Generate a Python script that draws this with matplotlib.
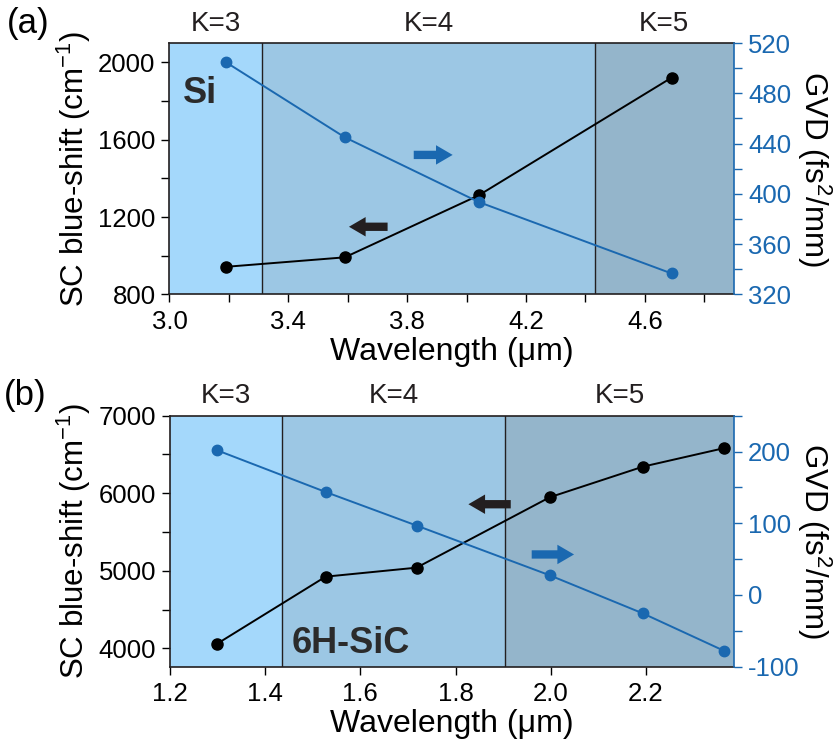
import matplotlib
matplotlib.use("Agg")
import matplotlib.pyplot as plt
import matplotlib.transforms as mtransforms
from matplotlib.ticker import MultipleLocator, FormatStrFormatter

# 字体设置
plt.rcParams['font.family'] = ['Liberation Sans', 'DejaVu Sans']
plt.rcParams['mathtext.fontset'] = 'custom'
plt.rcParams['mathtext.rm'] = 'Liberation Sans'
plt.rcParams['mathtext.it'] = 'Liberation Sans:italic'
plt.rcParams['axes.unicode_minus'] = False

# (a) Si 数据
si_wl = [3.19, 3.59, 4.04, 4.69]
si_shift = [943, 992, 1312, 1921]
si_gvd = [504.7, 445, 393.6, 336.7]
si_edges = [3.0, 3.313, 4.431, 4.9]

# (b) 6H-SiC 数据
sic_wl = [1.298, 1.527, 1.718, 1.998, 2.194, 2.364]
sic_shift = [4055, 4924, 5040, 5948, 6343, 6581]
sic_gvd = [202, 143.6, 96.8, 27.4, -25.8, -77.8]
sic_edges = [1.2, 1.435, 1.904, 2.385]

k_labels = ['K=3', 'K=4', 'K=5']
region_colors = ['#a4d8fb', '#9cc7e4', '#94b5cb']

blue = '#1a68b0'
dark = '#231f20'
tick_fs = 18.5
label_fs = 22.5


fig = plt.figure(figsize=(8.37, 7.44), dpi=100)


def draw_panel(rect, wl, shift, gvd, edges, xlim, ylim_l, ylim_r,
               xmajor, xoffset, xminor, lmajor, rmajor, rminor, arrows, name, name_pos):
    ax = fig.add_axes(rect)
    ax2 = ax.twinx()

    # 背景分区
    for i in range(3):
        ax.axvspan(edges[i], edges[i + 1], color=region_colors[i], lw=0, zorder=0)
    for e in edges[1:-1]:
        ax.axvline(e, color=dark, lw=1.0, zorder=1)

    trans = mtransforms.blended_transform_factory(ax.transData, ax.transAxes)
    for i in range(3):
        ax.text((edges[i] + edges[i + 1]) / 2, 1.025, k_labels[i], transform=trans,
                ha='center', va='bottom', fontsize=20, color=dark)

    ax.plot(wl, shift, '-o', color='black', lw=1.4, ms=8, zorder=3)
    ax2.plot(wl, gvd, '-o', color=blue, lw=1.4, ms=7.5, zorder=3)

    ax.set_xlim(*xlim)
    ax.set_ylim(*ylim_l)
    ax2.set_ylim(*ylim_r)

    ax.xaxis.set_major_locator(MultipleLocator(xmajor, offset=xoffset))
    if xminor:
        ax.xaxis.set_minor_locator(MultipleLocator(xminor))
    ax.yaxis.set_major_locator(MultipleLocator(lmajor))
    ax.yaxis.set_minor_locator(MultipleLocator(lmajor / 2))
    ax2.yaxis.set_major_locator(MultipleLocator(rmajor))
    ax2.yaxis.set_minor_locator(MultipleLocator(rminor))
    ax.xaxis.set_major_formatter(FormatStrFormatter('%.1f'))

    for a in (ax, ax2):
        a.tick_params(which='both', direction='out', length=6, width=1.0, labelsize=tick_fs)
    ax.tick_params(axis='y', which='both', colors='black', pad=4)
    ax.tick_params(axis='x', which='both', pad=5)
    ax2.tick_params(axis='y', which='both', colors=blue, labelcolor=blue, pad=4)

    for s in ['top', 'bottom', 'left']:
        ax2.spines[s].set_visible(False)
        ax.spines[s].set_color(dark)
        ax.spines[s].set_linewidth(1.2)
    ax.spines['right'].set_visible(False)
    ax2.spines['right'].set_color(blue)
    ax2.spines['right'].set_linewidth(1.2)

    ax.set_xlabel('Wavelength (μm)', fontsize=23, labelpad=2)
    ax.set_ylabel('SC blue-shift (cm$^{-1}$)', fontsize=label_fs)
    ax.yaxis.set_label_coords(-0.136, 0.5)
    ax2.set_ylabel('GVD (fs$^{2}$/mm)', fontsize=label_fs, rotation=270, va='bottom')
    ax2.yaxis.set_label_coords(1.108, 0.5)

    # 指示坐标轴的箭头
    (bx0, bx1, by), (rx0, rx1, ry) = arrows
    style = 'simple,head_length=0.6,head_width=0.7,tail_width=0.3'
    ax.annotate('', xy=(bx1, by), xytext=(bx0, by),
                arrowprops=dict(arrowstyle=style, color=dark, mutation_scale=20,
                                shrinkA=0, shrinkB=0, lw=0))
    ax2.annotate('', xy=(rx1, ry), xytext=(rx0, ry),
                 arrowprops=dict(arrowstyle=style, color=blue, mutation_scale=20,
                                 shrinkA=0, shrinkB=0, lw=0))

    ax.text(name_pos[0], name_pos[1], name, fontsize=26, fontweight='bold',
            color='#2b2b2b', ha='left', va='center', zorder=4)
    return ax


ax_a = draw_panel([0.2025, 0.6042, 0.6745, 0.338], si_wl, si_shift, si_gvd, si_edges,
                  (3.0, 4.9), (800, 2100), (320, 520), 0.4, 0.2, 0.2, 400, 40, 20,
                  ((3.734, 3.604, 1150), (3.822, 3.953, 431)), 'Si', (3.045, 1840))

ax_b = draw_panel([0.2031, 0.1039, 0.6738, 0.3374], sic_wl, sic_shift, sic_gvd, sic_edges,
                  (1.2, 2.385), (3763, 7000), (-100, 250), 0.2, 0.0, None, 1000, 100, 50,
                  ((1.916, 1.827, 5858), (1.960, 2.049, 56.5)), '6H-SiC', (1.456, 4068))

fig.text(0.008, 0.968, '(a)', fontsize=25, ha='left', va='center')
fig.text(0.005, 0.468, '(b)', fontsize=25, ha='left', va='center')

fig.savefig('out.png', dpi=100)
